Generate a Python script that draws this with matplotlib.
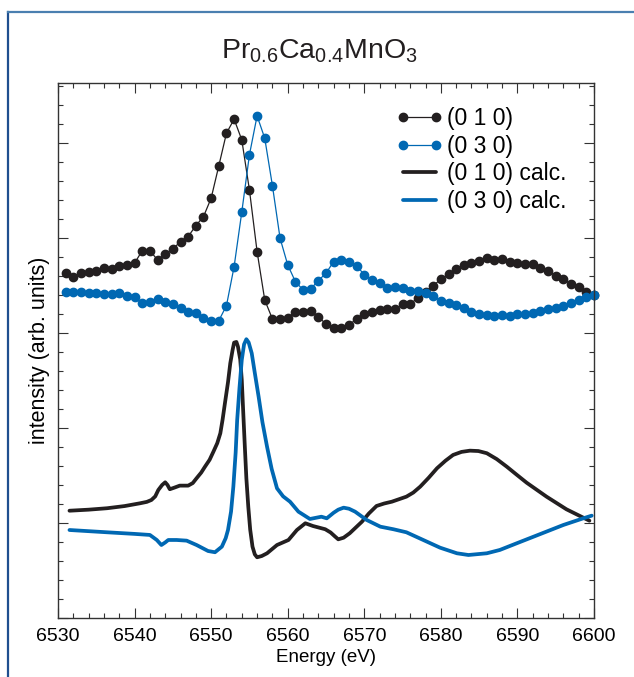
import numpy as np
import matplotlib
matplotlib.use("Agg")
import matplotlib.pyplot as plt
from matplotlib.lines import Line2D
from matplotlib.legend_handler import HandlerLine2D
from matplotlib.ticker import MultipleLocator

plt.rcParams['font.family'] = ['Liberation Sans', 'DejaVu Sans']
plt.rcParams['mathtext.default'] = 'regular'

BLACK = '#231f20'
BLUE = '#0068b3'

# measured spectra, 1 eV steps
energy_exp = np.arange(6531, 6601)
i010_exp = [3.628, 3.586, 3.635, 3.639, 3.656, 3.681, 3.671, 3.708, 3.716, 3.734,
            3.866, 3.866, 3.768, 3.832, 3.884, 3.961, 4.014, 4.129, 4.224, 4.418,
            4.758, 5.102, 5.249, 5.032, 4.505, 3.856, 3.347, 3.147, 3.147, 3.158,
            3.224, 3.224, 3.232, 3.172, 3.092, 3.049, 3.049, 3.084, 3.147, 3.197,
            3.218, 3.242, 3.249, 3.249, 3.302, 3.302, 3.372, 3.428, 3.498, 3.565,
            3.618, 3.671, 3.716, 3.740, 3.761, 3.793, 3.768, 3.776, 3.751, 3.740,
            3.723, 3.723, 3.687, 3.653, 3.603, 3.568, 3.513, 3.481, 3.435, 3.400]
i030_exp = [3.428, 3.435, 3.435, 3.418, 3.418, 3.411, 3.411, 3.418, 3.389, 3.376,
            3.313, 3.329, 3.358, 3.329, 3.305, 3.266, 3.224, 3.207, 3.161, 3.129,
            3.129, 3.287, 3.698, 4.271, 4.874, 5.284, 5.049, 4.551, 3.997, 3.716,
            3.540, 3.453, 3.463, 3.551, 3.628, 3.751, 3.768, 3.751, 3.708, 3.611,
            3.558, 3.523, 3.477, 3.481, 3.471, 3.445, 3.445, 3.418, 3.389, 3.337,
            3.319, 3.295, 3.260, 3.218, 3.197, 3.189, 3.182, 3.189, 3.182, 3.197,
            3.200, 3.207, 3.235, 3.253, 3.266, 3.287, 3.319, 3.347, 3.376, 3.400]

# calculated spectra
e010_calc = [6531.5, 6534.0, 6536.4, 6538.7, 6540.7, 6541.6, 6542.2, 6542.7, 6543.1,
             6543.6, 6544.0, 6544.3, 6544.6, 6545.2, 6545.9, 6547.0, 6547.6, 6548.1,
             6548.7, 6549.2, 6549.8, 6550.3, 6550.8, 6551.2, 6551.5, 6551.8, 6552.2,
             6552.5, 6552.8, 6553.0, 6553.3, 6553.5, 6553.8, 6554.0, 6554.2, 6554.4,
             6554.6, 6554.85, 6555.1, 6555.4, 6555.7, 6556.0, 6556.6, 6557.3, 6558.6,
             6560.1, 6561.2, 6562.3, 6563.3, 6564.9, 6565.6, 6566.2, 6566.6, 6567.3,
             6568.1, 6569.7, 6570.6, 6571.6, 6572.6, 6573.6, 6575.5, 6576.4, 6577.3,
             6578.4, 6579.5, 6580.6, 6581.6, 6582.7, 6583.8, 6584.9, 6586.0, 6587.3,
             6588.6, 6589.9, 6591.2, 6593.8, 6596.4, 6599.4]
i010_calc = [1.129, 1.140, 1.155, 1.178, 1.207, 1.222, 1.242, 1.280, 1.347,
             1.400, 1.428, 1.400, 1.355, 1.372, 1.393, 1.393, 1.420, 1.471,
             1.530, 1.593, 1.665, 1.751, 1.840, 1.944, 2.090, 2.260, 2.480,
             2.681, 2.820, 2.898, 2.905, 2.856, 2.720, 2.505, 2.150, 1.803,
             1.470, 1.172, 0.930, 0.751, 0.670, 0.639, 0.652, 0.681, 0.768,
             0.821, 0.926, 0.997, 0.968, 0.934, 0.900, 0.856, 0.828, 0.845,
             0.892, 1.014, 1.100, 1.179, 1.205, 1.224, 1.277, 1.320, 1.382,
             1.475, 1.576, 1.655, 1.716, 1.748, 1.761, 1.757, 1.734, 1.672,
             1.593, 1.508, 1.424, 1.277, 1.144, 1.024]
e030_calc = [6531.5, 6536.4, 6540.0, 6542.0, 6542.9, 6543.5, 6544.0, 6544.4, 6545.5,
             6546.8, 6548.1, 6549.6, 6550.5, 6551.4, 6551.9, 6552.2, 6552.6, 6552.9,
             6553.2, 6553.4, 6553.7, 6554.0, 6554.3, 6554.6, 6554.9, 6555.3, 6555.7,
             6556.2, 6556.7, 6557.3, 6557.9, 6558.6, 6559.4, 6560.3, 6561.4, 6562.9,
             6564.4, 6565.1, 6566.0, 6566.6, 6567.3, 6568.0, 6568.8, 6570.3, 6572.1,
             6573.8, 6575.5, 6577.7, 6579.9, 6582.1, 6583.6, 6586.0, 6587.7, 6589.9,
             6593.0, 6596.0, 6598.6, 6599.7]
i030_calc = [0.926, 0.902, 0.885, 0.874, 0.821, 0.768, 0.795, 0.821, 0.821,
             0.814, 0.768, 0.705, 0.692, 0.751, 0.840, 0.926, 1.120, 1.382,
             1.740, 2.084, 2.420, 2.716, 2.880, 2.934, 2.900, 2.786, 2.580,
             2.329, 2.060, 1.803, 1.570, 1.365, 1.280, 1.224, 1.119, 1.042,
             1.066, 1.049, 1.108, 1.140, 1.161, 1.150, 1.119, 1.032, 0.961,
             0.934, 0.902, 0.821, 0.740, 0.681, 0.663, 0.681, 0.716, 0.786,
             0.884, 0.979, 1.049, 1.077]

fig = plt.figure(figsize=(6.34, 6.77), dpi=100)
ax = fig.add_axes([58 / 634, 59 / 677, 536 / 634, 535 / 677])

ax.plot(energy_exp, i010_exp, '-o', color=BLACK, lw=0.9, ms=6, clip_on=False, label='(0 1 0)')
ax.plot(energy_exp, i030_exp, '-o', color=BLUE, lw=0.9, ms=6, clip_on=False, label='(0 3 0)')
ax.plot(e010_calc, i010_calc, '-', color=BLACK, lw=2.7, solid_joinstyle='round',
        solid_capstyle='round', label='(0 1 0) calc.')
ax.plot(e030_calc, i030_calc, '-', color=BLUE, lw=2.7, solid_joinstyle='round',
        solid_capstyle='round', label='(0 3 0) calc.')

ax.set_xlim(6530, 6600)
ax.set_ylim(0, 5.63)
ax.xaxis.set_major_locator(MultipleLocator(10))
ax.xaxis.set_minor_locator(MultipleLocator(2))
ax.yaxis.set_major_locator(MultipleLocator(1))
ax.yaxis.set_minor_locator(MultipleLocator(0.2))
ax.tick_params(which='both', direction='in', top=True, right=True, width=0.8, color='#333333')
ax.tick_params(which='major', length=7)
ax.tick_params(which='minor', length=3.5)
ax.tick_params(axis='x', labelsize=14, pad=7)
ax.set_yticklabels([])
for s in ax.spines.values():
    s.set_linewidth(1.0)
    s.set_color('#333333')

ax.set_xlabel('Energy (eV)', fontsize=13.5, labelpad=3)
ax.set_ylabel('intensity (arb. units)', fontsize=15.5, labelpad=2)

# markers sit on the ends of the legend line
ax.legend(loc='upper left', bbox_to_anchor=(0.643, 0.955), frameon=False,
          fontsize=16.5, numpoints=2, handlelength=1.45, handletextpad=0.5,
          labelspacing=0.2, borderpad=0, borderaxespad=0,
          handler_map={Line2D: HandlerLine2D(marker_pad=0.0)})

fig.text(0.503, 0.925, 'Pr$_{0.6}$Ca$_{0.4}$MnO$_{3}$', fontsize=20.5,
         ha='center', va='center', color='#231f20')

# blue frame around the panel
fig.add_artist(Line2D([7.5 / 634, 7.5 / 634], [0, 1 - 12 / 677], color='#1f4f8f', lw=1.6))
fig.add_artist(Line2D([7.5 / 634, 1], [1 - 12 / 677, 1 - 12 / 677], color='#4a7fb0', lw=1.6))

fig.savefig('out.png', dpi=100)
